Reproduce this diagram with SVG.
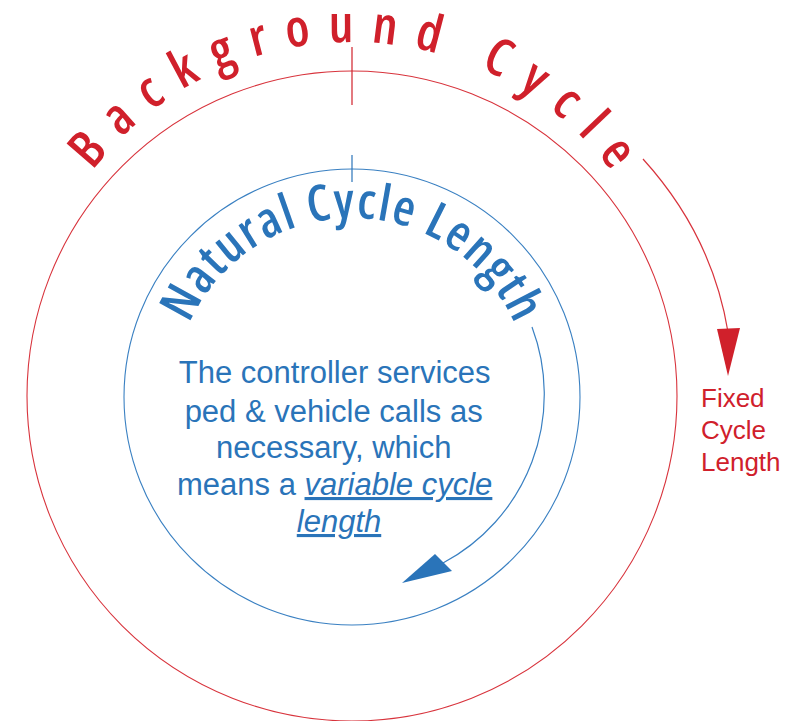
<svg xmlns="http://www.w3.org/2000/svg" width="802" height="721" viewBox="0 0 802 721">
  <style>
    .red { fill: #d0202b; }
    .blue { fill: #2a74b9; }
    .ring-red { fill: none; stroke: #d8333c; stroke-width: 1.1; }
    .ring-blue { fill: none; stroke: #3a80c2; stroke-width: 1.1; }
    .arc { font-family: "Open Sans", "Liberation Sans", sans-serif; font-stretch: 75%; font-weight: 540; }
    .body { font-family: "Liberation Sans", Arial, sans-serif; font-size: 31px; text-anchor: middle; }
    .lbl { font-family: "Liberation Sans", Arial, sans-serif; font-size: 26px; }
  </style>
  <defs>
    <path id="bgArc" d="M27,367 A325,325 0 0 1 677,367"/>
    <path id="natArc" d="M174,396 A178,178 0 0 1 530,396"/>
  </defs>
  <rect width="802" height="721" fill="#ffffff"/>

  <g id="background-cycle">
    <circle class="ring-red" cx="352" cy="396" r="325"/>
    <line x1="352" y1="47" x2="352" y2="105" stroke="#d0202b" stroke-width="1.2"/>
    <text class="arc red" font-size="52" letter-spacing="17.6"><textPath href="#bgArc" startOffset="519.3" text-anchor="middle">Background Cycle</textPath></text>
  </g>

  <g id="natural-cycle">
    <circle class="ring-blue" cx="352" cy="397" r="228"/>
    <line x1="352" y1="155" x2="352" y2="182" stroke="#2a74b9" stroke-width="1.2"/>
    <text class="arc blue" font-size="50" letter-spacing="1.8"><textPath href="#natArc" startOffset="280.5" text-anchor="middle">Natural Cycle Length</textPath></text>
  </g>

  <g id="description">
    <text class="body blue">
      <tspan x="339" y="383">The controller services</tspan>
      <tspan x="338" y="422">ped &amp; vehicle calls as</tspan>
      <tspan x="338" y="458">necessary, which</tspan>
      <tspan x="339" y="495">means a <tspan font-style="italic" text-decoration="underline">variable cycle</tspan></tspan>
      <tspan x="339" y="532" font-style="italic" text-decoration="underline">length</tspan>
    </text>
  </g>

  <g id="fixed-label">
    <text class="lbl red">
      <tspan x="701" y="407">Fixed</tspan>
      <tspan x="701" y="439">Cycle</tspan>
      <tspan x="701" y="471">Length</tspan>
    </text>
  </g>

  <g id="connectors">
    <path d="M643,159 Q712,235 728,332" fill="none" stroke="#d8333c" stroke-width="1.2"/>
    <polygon points="717,329 740,328 728,376" fill="#d0202b"/>
    <path d="M532,327 A191,191 0 0 1 443,563" fill="none" stroke="#3a80c2" stroke-width="1.2"/>
    <polygon points="435,554 452,571 402,583" fill="#2a74b9"/>
  </g>
</svg>
